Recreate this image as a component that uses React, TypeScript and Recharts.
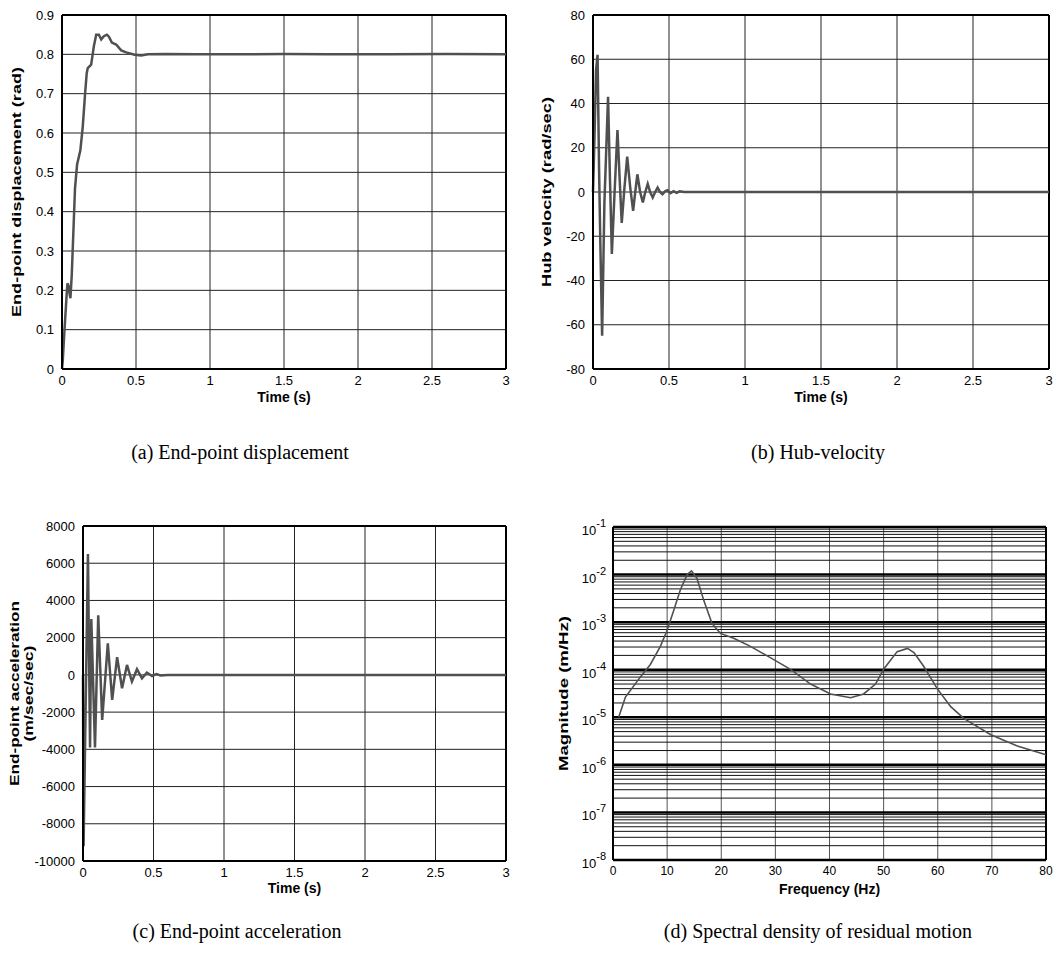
import React from "react";
import { LineChart, Line, XAxis, YAxis, CartesianGrid, ReferenceLine } from "recharts";

// (a) end-point displacement (rad) vs time (s)
const timeA = [0, 0.005, 0.016, 0.03, 0.037, 0.045, 0.052, 0.057, 0.066, 0.079, 0.088, 0.102, 0.124, 0.14, 0.156, 0.167, 0.174, 0.197, 0.215, 0.231, 0.249, 0.265, 0.283, 0.303, 0.317, 0.337, 0.366, 0.4, 0.434, 0.49, 0.535, 0.58, 0.7, 0.9, 1.2, 1.5, 1.8, 2.2, 2.6, 3.0];
const dispA = [0, 0.02, 0.094, 0.18, 0.218, 0.21, 0.19, 0.18, 0.24, 0.37, 0.46, 0.52, 0.556, 0.615, 0.7, 0.752, 0.765, 0.774, 0.82, 0.85, 0.85, 0.838, 0.846, 0.85, 0.845, 0.83, 0.825, 0.81, 0.805, 0.799, 0.797, 0.8, 0.801, 0.8, 0.8, 0.801, 0.8, 0.8, 0.801, 0.8];

// (b) hub velocity (rad/sec)
const timeB = [0, 0.01, 0.02, 0.03, 0.04, 0.048, 0.06, 0.075, 0.099, 0.112, 0.124, 0.142, 0.161, 0.176, 0.189, 0.207, 0.225, 0.245, 0.264, 0.278, 0.292, 0.31, 0.328, 0.344, 0.36, 0.376, 0.393, 0.409, 0.425, 0.441, 0.457, 0.474, 0.49, 0.51, 0.53, 0.55, 0.57, 0.6, 0.8, 1.2, 1.6, 2.0, 2.5, 3.0];
const velB = [0, 25, 55, 62, 10, -22, -65, -5, 43, 5, -28, 0, 28, 5, -14, 2, 16, 2, -8.5, 0, 8, 0, -4.7, 0, 3.7, 0, -2.5, 0, 2, 0, -1, 0.3, 0.8, -0.5, 0.4, -0.4, 0.3, 0, 0, 0, 0, 0, 0, 0];

// (c) end-point acceleration (m/sec/sec)
const timeC = [0, 0.004, 0.035, 0.05, 0.059, 0.085, 0.108, 0.136, 0.176, 0.207, 0.242, 0.277, 0.312, 0.347, 0.383, 0.418, 0.453, 0.49, 0.52, 0.55, 0.6, 0.8, 1.2, 1.6, 2.0, 2.5, 3.0];
const accC = [0, -9200, 6500, -3900, 3000, -3900, 3200, -2420, 1700, -1340, 950, -716, 537, -358, 304, -180, 125, -60, 45, -30, 0, 0, 0, 0, 0, 0, 0];

// (d) spectral density of residual motion
const freqD = [1.05, 2.3, 5.0, 6.9, 8.75, 9.9, 11.2, 12.45, 13.7, 14.5, 15.5, 16.8, 18.3, 19.85, 22.3, 25.4, 29.7, 32.8, 36.5, 40.2, 43.9, 46.3, 48.5, 50.0, 52.5, 54.4, 55.6, 57.4, 59.9, 62.4, 64.8, 69.8, 74.7, 80];
const magD = [1.0e-5, 2.66e-5, 6.9e-5, 1.29e-4, 3.1e-4, 6.3e-4, 1.74e-3, 4.8e-3, 1.0e-2, 1.19e-2, 8.4e-3, 2.8e-3, 9.3e-4, 5.8e-4, 4.6e-4, 3.1e-4, 1.63e-4, 1.02e-4, 5.0e-5, 3.1e-5, 2.57e-5, 3.1e-5, 5.0e-5, 1.02e-4, 2.4e-4, 2.8e-4, 2.3e-4, 1.18e-4, 4.0e-5, 1.67e-5, 9.5e-6, 4.3e-6, 2.5e-6, 1.63e-6];

const timeTicks = [0, 0.5, 1, 1.5, 2, 2.5, 3];
const dispTicks = [0, 0.1, 0.2, 0.3, 0.4, 0.5, 0.6, 0.7, 0.8, 0.9];
const velTicks = [-80, -60, -40, -20, 0, 20, 40, 60, 80];
const accTicks = [-10000, -8000, -6000, -4000, -2000, 0, 2000, 4000, 6000, 8000];
const freqTicks = [0, 10, 20, 30, 40, 50, 60, 70, 80];
const decades = [1e-8, 1e-7, 1e-6, 1e-5, 1e-4, 1e-3, 1e-2, 1e-1];
const minorSteps = [2, 3, 4, 5, 6, 7, 8, 9];

const FONT = "'Liberation Sans', Arial, sans-serif";
const LINE = "#505050";
const GRID = "#222";
const tickStyle = { fontSize: 13, fill: "#000", fontFamily: FONT };

const zip = (xs: number[], ys: number[]) => xs.map((x, i) => ({ x, y: ys[i] }));

// rotated y-axis title; lengths stretched to match the original's tall lettering
const yLabel = (lines: { text: string; len: number }[], dx: number) => (props: any) => {
  const vb = props.viewBox || {};
  const cx = vb.x + dx;
  const cy = vb.y + vb.height / 2;
  return (
    <g transform={`rotate(-90 ${cx} ${cy})`}>
      {lines.map((l, i) => (
        <text
          key={i}
          x={cx}
          y={cy + (i - (lines.length - 1) / 2) * 14}
          textAnchor="middle"
          dominantBaseline="central"
          fontSize={13}
          fontWeight="bold"
          fontFamily={FONT}
          fill="#000"
          textLength={l.len}
          lengthAdjust="spacingAndGlyphs"
        >
          {l.text}
        </text>
      ))}
    </g>
  );
};

const xLabel = (text: string, dy: number) => (props: any) => {
  const vb = props.viewBox || {};
  return (
    <text
      x={vb.x + vb.width / 2}
      y={vb.y + dy}
      textAnchor="middle"
      dominantBaseline="central"
      fontSize={14}
      fontWeight="bold"
      fontFamily={FONT}
      fill="#000"
    >
      {text}
    </text>
  );
};

const PowTick = (props: any) => {
  const { x, y, payload } = props;
  const exp = Math.round(Math.log10(payload.value));
  return (
    <text x={x - 5} y={y + 8} textAnchor="end" fontFamily={FONT} fill="#000" fontSize={13}>
      <tspan>10</tspan>
      <tspan dy={-8} fontSize={11}>{exp}</tspan>
    </text>
  );
};

type PanelProps = {
  left: number;
  top: number;
  width: number;
  height: number;
  children: React.ReactNode;
  data: { x: number; y: number }[];
};

function Panel({ left, top, width, height, children, data }: PanelProps) {
  return (
    <div style={{ position: "absolute", left, top }}>
      <LineChart width={width} height={height} data={data} margin={{ top: 10, right: 12, left: 0, bottom: 0 }}>
        {children}
      </LineChart>
    </div>
  );
}

function Caption({ cx, cy, text }: { cx: number; cy: number; text: string }) {
  return (
    <div
      style={{
        position: "absolute",
        left: cx - 250,
        top: cy - 12,
        width: 500,
        textAlign: "center",
        fontFamily: "'Liberation Serif', 'Times New Roman', serif",
        fontSize: 20,
        lineHeight: "24px",
        color: "#000",
      }}
    >
      {text}
    </div>
  );
}

const frame = { stroke: "#000", strokeWidth: 2 };
const XH = 42;

export default function App() {
  const minorValues = decades.slice(0, -1).flatMap((d) => minorSteps.map((m) => m * d));

  return (
    <div style={{ position: "absolute", left: 0, top: 0, width: 1061, height: 959, background: "#fff" }}>
      {/* (a) */}
      <Panel left={0} top={5} width={518} height={364 + XH} data={zip(timeA, dispA)}>
        <CartesianGrid stroke={GRID} strokeWidth={1} />
        <XAxis dataKey="x" type="number" domain={[0, 3]} ticks={timeTicks} height={XH} tickSize={0} tickMargin={7}
          tick={tickStyle} axisLine={frame} label={{ content: xLabel("Time (s)", 28) } as any} />
        <YAxis type="number" domain={[0, 0.9]} ticks={dispTicks} width={62} tickSize={0} tickMargin={8}
          tick={tickStyle} axisLine={frame}
          label={{ content: yLabel([{ text: "End-point displacement (rad)", len: 250 }], 16) } as any} />
        <ReferenceLine x={3} {...frame} />
        <ReferenceLine y={0.9} {...frame} />
        <Line dataKey="y" type="linear" stroke={LINE} strokeWidth={2.5} dot={false} isAnimationActive={false} />
      </Panel>

      {/* (b) */}
      <Panel left={531} top={5} width={530} height={364 + XH} data={zip(timeB, velB)}>
        <CartesianGrid stroke={GRID} strokeWidth={1} />
        <XAxis dataKey="x" type="number" domain={[0, 3]} ticks={timeTicks} height={XH} tickSize={0} tickMargin={7}
          tick={tickStyle} axisLine={frame} label={{ content: xLabel("Time (s)", 28) } as any} />
        <YAxis type="number" domain={[-80, 80]} ticks={velTicks} width={62} tickSize={0} tickMargin={8}
          tick={tickStyle} axisLine={frame}
          label={{ content: yLabel([{ text: "Hub velocity (rad/sec)", len: 190 }], 15) } as any} />
        <ReferenceLine x={3} {...frame} />
        <ReferenceLine y={80} {...frame} />
        <Line dataKey="y" type="linear" stroke={LINE} strokeWidth={2.5} dot={false} isAnimationActive={false} />
      </Panel>

      {/* (c) */}
      <Panel left={0} top={516} width={518} height={345 + XH} data={zip(timeC, accC)}>
        <CartesianGrid stroke={GRID} strokeWidth={1} />
        <XAxis dataKey="x" type="number" domain={[0, 3]} ticks={timeTicks} height={XH} tickSize={0} tickMargin={7}
          tick={tickStyle} axisLine={frame} label={{ content: xLabel("Time (s)", 27) } as any} />
        <YAxis type="number" domain={[-10000, 8000]} ticks={accTicks} width={83} tickSize={0} tickMargin={8}
          tick={tickStyle} axisLine={frame}
          label={{
            content: yLabel(
              [
                { text: "End-point acceleration", len: 185 },
                { text: "(m/sec/sec)", len: 96 },
              ],
              21
            ),
          } as any} />
        <ReferenceLine x={3} {...frame} />
        <ReferenceLine y={8000} {...frame} />
        <Line dataKey="y" type="linear" stroke={LINE} strokeWidth={2.5} dot={false} isAnimationActive={false} />
      </Panel>

      {/* (d) */}
      <Panel left={530} top={517} width={528} height={343 + XH} data={zip(freqD, magD)}>
        <CartesianGrid stroke="#555" strokeWidth={1} horizontal={false} />
        {minorValues.map((v) => (
          <ReferenceLine key={v} y={v} stroke="#111" strokeWidth={1} />
        ))}
        {decades.map((v) => (
          <ReferenceLine key={"d" + v} y={v} stroke="#000" strokeWidth={2.5} />
        ))}
        <XAxis dataKey="x" type="number" domain={[0, 80]} ticks={freqTicks} height={XH} tickSize={0} tickMargin={6}
          tick={{ ...tickStyle, fontSize: 12 }} axisLine={frame} label={{ content: xLabel("Frequency (Hz)", 29) } as any} />
        <YAxis type="number" scale="log" domain={[1e-8, 1e-1]} ticks={decades} width={83} tickSize={0}
          tick={<PowTick />} axisLine={frame} allowDataOverflow
          label={{ content: yLabel([{ text: "Magnitude (m/Hz)", len: 155 }], 33) } as any} />
        <ReferenceLine x={80} {...frame} />
        <Line dataKey="y" type="linear" stroke={LINE} strokeWidth={1.6} dot={false} isAnimationActive={false} />
      </Panel>

      <Caption cx={240} cy={452} text="(a) End-point displacement" />
      <Caption cx={818} cy={452} text="(b) Hub-velocity" />
      <Caption cx={237} cy={931} text="(c) End-point acceleration" />
      <Caption cx={818} cy={931} text="(d) Spectral density of residual motion" />
    </div>
  );
}
